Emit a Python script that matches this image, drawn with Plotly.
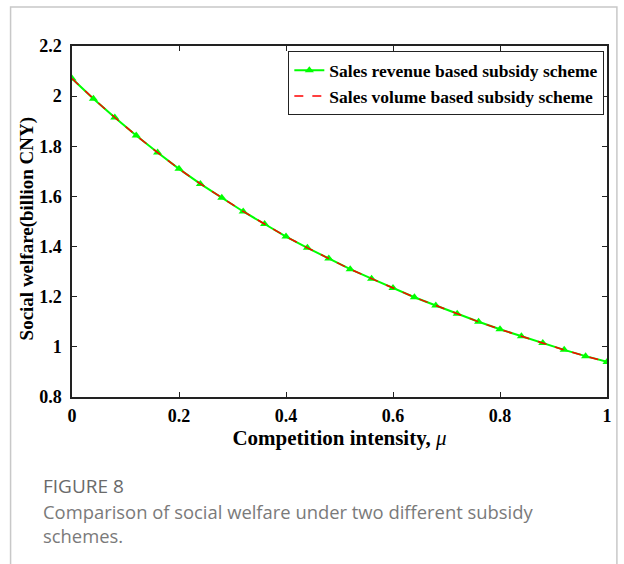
import plotly.graph_objects as go

mu = [0.00, 0.04, 0.08, 0.12, 0.16, 0.20, 0.24, 0.28, 0.32, 0.36, 0.40, 0.44, 0.48,
      0.52, 0.56, 0.60, 0.64, 0.68, 0.72, 0.76, 0.80, 0.84, 0.88, 0.92, 0.96, 1.00]
revenue_scheme = [2.070, 1.990, 1.915, 1.843, 1.775, 1.710, 1.650, 1.595, 1.540, 1.490,
                  1.440, 1.395, 1.352, 1.310, 1.272, 1.235, 1.198, 1.165, 1.132, 1.100,
                  1.070, 1.042, 1.015, 0.988, 0.963, 0.940]
volume_scheme = list(revenue_scheme)

x_ticks = [0, 0.2, 0.4, 0.6, 0.8, 1]
y_ticks = [0.8, 1.0, 1.2, 1.4, 1.6, 1.8, 2.0, 2.2]

W, H = 624, 564
L, R, T, B = 72, 612, 46, 397

def px(x):
    return (x - L) / (R - L)

def py(y):
    return (B - y) / (B - T)

serif = "Liberation Serif, Times New Roman, serif"

fig = go.Figure()
fig.add_trace(go.Scatter(
    x=mu, y=revenue_scheme, mode="lines+markers",
    name="<b>Sales revenue based subsidy scheme</b>",
    line=dict(color="#00ff00", width=2),
    marker=dict(symbol="triangle-up", size=8, color="#00ff00"),
))
fig.add_trace(go.Scatter(
    x=mu, y=volume_scheme, mode="lines",
    name="<b>Sales volume based subsidy scheme</b>",
    line=dict(color="#ff0000", width=1.5, dash="dash"),
))

axis_common = dict(
    showline=True, linecolor="#222222", linewidth=1.5, mirror="ticks",
    ticks="inside", ticklen=5, tickwidth=1, tickcolor="#222222",
    showgrid=False, zeroline=False,
    tickfont=dict(family=serif, size=18, color="black"),
)

fig.update_layout(
    width=W, height=H,
    margin=dict(l=L, r=W - R, t=T, b=H - B),
    paper_bgcolor="white", plot_bgcolor="white",
    showlegend=True,
    legend=dict(
        x=0.995, y=0.985, xanchor="right", yanchor="top",
        bordercolor="#222222", borderwidth=1, bgcolor="white",
        font=dict(family=serif, size=17.5, color="black"),
        tracegroupgap=0, itemwidth=30,
    ),
    xaxis=dict(range=[0, 1], tickvals=x_ticks,
               ticktext=["<b>%g</b>" % v for v in x_ticks],
               ticklabelstandoff=2,
               title=dict(text="<b>Competition intensity, </b><i>μ</i>",
                          font=dict(family=serif, size=21, color="black"), standoff=4),
               **axis_common),
    yaxis=dict(range=[0.8, 2.2], tickvals=y_ticks,
               ticktext=["<b>%g</b>" % v for v in y_ticks],
               ticklabelstandoff=5,
               **axis_common),
)

# y-axis title placed as in the reference
fig.add_annotation(xref="paper", yref="paper", x=px(27), y=py(229),
                   xanchor="center", yanchor="middle", showarrow=False, textangle=-90,
                   text="<b>Social welfare(billion CNY)</b>",
                   font=dict(family=serif, size=19, color="black"))

# outer frame
fig.add_shape(type="rect", xref="paper", yref="paper",
              x0=px(10), x1=px(622), y0=py(600), y1=py(7),
              line=dict(color="#c8c8c8", width=1.5), layer="below")

caption_font = "Open Sans, Noto Sans, sans-serif"
fig.add_annotation(xref="paper", yref="paper", x=px(41), y=py(486),
                   xanchor="left", yanchor="middle", showarrow=False,
                   text="FIGURE 8", font=dict(family=caption_font, size=19, color="#6a6a6a"))
fig.add_annotation(xref="paper", yref="paper", x=px(41), y=py(511),
                   xanchor="left", yanchor="middle", showarrow=False,
                   text="Comparison of social welfare under two different subsidy",
                   font=dict(family=caption_font, size=18.4, color="#7a7a7a"))
fig.add_annotation(xref="paper", yref="paper", x=px(41), y=py(535),
                   xanchor="left", yanchor="middle", showarrow=False,
                   text="schemes.",
                   font=dict(family=caption_font, size=18.4, color="#7a7a7a"))

fig.write_html("out.html")
